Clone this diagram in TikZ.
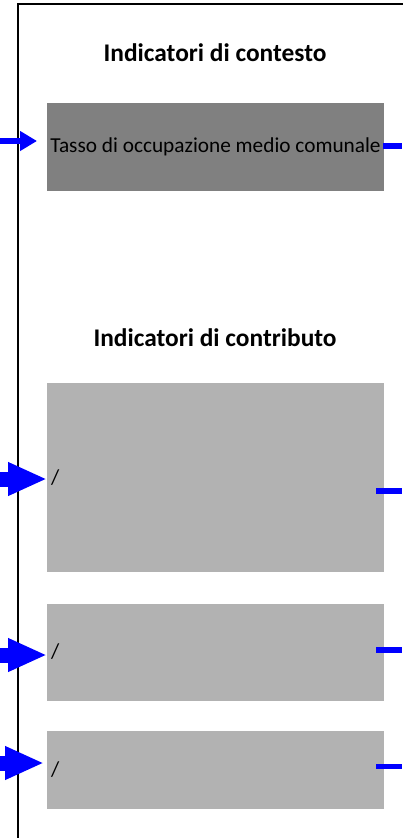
\documentclass[tikz,border=0pt]{standalone}
\usepackage{fontspec}
\setmainfont{Carlito}
\usetikzlibrary{arrows.meta}
\definecolor{darkbox}{HTML}{808080}
\definecolor{lightbox}{HTML}{B2B2B2}
\definecolor{arrowblue}{HTML}{0000FF}
\tikzset{
  boxbase/.style={inner sep=0pt, outer sep=0pt, draw=none, minimum width=337pt},
  darkcell/.style={boxbase, fill=darkbox},
  lightcell/.style={boxbase, fill=lightbox},
  titletext/.style={inner sep=0pt, font=\fontsize{25.4}{28}\selectfont\bfseries},
  cellbody/.style={font=\fontsize{21.3}{24}\selectfont},
  slashtext/.style={inner sep=0pt, anchor=west, font=\fontsize{21.3}{24}\selectfont},
  smallarrow/.style={draw=arrowblue, line width=6pt, -{Triangle[length=17pt,width=19pt]}, arrowblue},
  bigarrow/.style={draw=arrowblue, line width=15pt, -{Triangle[length=39pt,width=31pt]}, arrowblue},
  outline/.style={draw=arrowblue, line width=5.5pt},
  framerule/.style={draw=black, line width=2pt}
}
\begin{document}
\begin{tikzpicture}[x=1pt,y=-1pt]
\useasboundingbox (0,0) rectangle (402,838);
% frame
\coordinate (fA) at (17.5,838);
\coordinate (fB) at (17.5,3.5);
\coordinate (fC) at (403,3.5);
\draw[framerule] (fA) -- (fB) -- (fC);
% titles
\node[titletext] (t1) at (215,53) {Indicatori di contesto};
\node[titletext] (t2) at (215,338) {Indicatori di contributo};
% boxes
\node[darkcell, minimum height=88pt, cellbody] (b1) at (215.5,147) {Tasso di occupazione medio comunale};
\node[lightcell, minimum height=189pt] (b2) at (215.5,477.5) {};
\node[lightcell, minimum height=97pt] (b3) at (215.5,652.5) {};
\node[lightcell, minimum height=78pt] (b4) at (215.5,770) {};
\node[slashtext] (s2) at (51,478) {/};
\node[slashtext] (s3) at (51,652) {/};
\node[slashtext] (s4) at (51,770) {/};
% incoming arrows
\coordinate (i1) at (0,141);
\coordinate (e1) at (37,141);
\draw[smallarrow] (i1) -- (e1);
\coordinate (i2) at (0,479);
\draw[bigarrow] (i2) -- (i2 -| b2.west);
\coordinate (i3) at (0,655);
\draw[bigarrow] (i3) -- (i3 -| b3.west);
\coordinate (i4) at (-3,763);
\coordinate (e4) at (44,763);
\draw[bigarrow] (i4) -- (e4);
% outgoing stubs
\coordinate (o1) at (402,146);
\draw[outline] (o1 -| b1.east) ++(-1,0) -- (o1);
\coordinate (o2s) at (376,491);
\coordinate (o2) at (402,491);
\draw[outline] (o2s) -- (o2);
\coordinate (o3s) at (376,650);
\coordinate (o3) at (402,650);
\draw[outline] (o3s) -- (o3);
\coordinate (o4s) at (376,766.5);
\coordinate (o4) at (402,766.5);
\draw[outline] (o4s) -- (o4);
\end{tikzpicture}
\end{document}
